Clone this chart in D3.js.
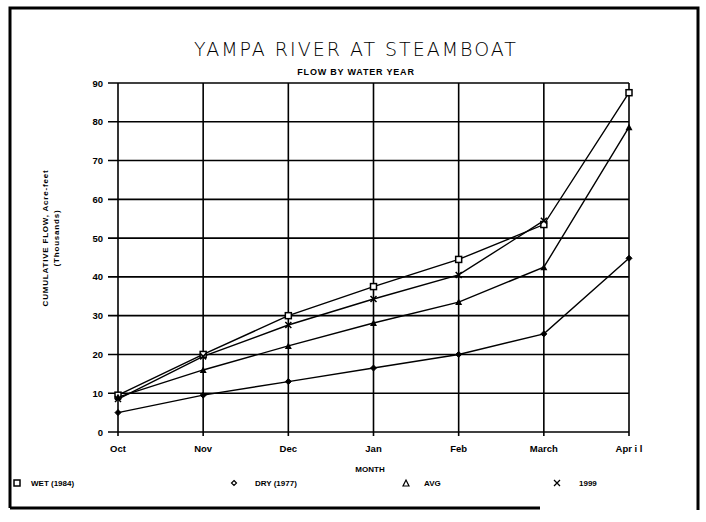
<!DOCTYPE html>
<html><head><meta charset="utf-8">
<script src="https://cdn.jsdelivr.net/npm/d3@7"></script>
<style>body{margin:0;background:#fff}svg{display:block}</style>
</head><body>
<svg id="c" width="706" height="522"></svg>
<script>
const months = ["Oct","Nov","Dec","Jan","Feb","March","Apr i l"];
const yTicks = [0,10,20,30,40,50,60,70,80,90];
const wet1984 = [9.5,20,30,37.5,44.5,53.5,87.5];
const dry1977 = [5,9.5,13,16.5,20,25.3,44.8];
const avg = [9,16,22.2,28.1,33.5,42.5,78.6];
const y1999 = [8.5,19.5,27.6,34.3,40.5,54.5];

const svg = d3.select("#c");
const x = d3.scalePoint().domain(months).range([118,629]);
const y = d3.scaleLinear().domain([0,90]).range([432,83]);

// border
svg.append("path").attr("d","M10,508 L10,8 L698,8 L698,510").attr("fill","none").attr("stroke","#000").attr("stroke-width",3);
svg.append("line").attr("x1",10).attr("x2",540).attr("y1",508).attr("y2",508).attr("stroke","#000").attr("stroke-width",3);

// title
svg.append("text").attr("x",356).attr("y",56).attr("text-anchor","middle")
  .style("font-family","DejaVu Sans").style("font-size","19px").style("font-weight","300").style("letter-spacing","2px").text("YAMPA RIVER AT STEAMBOAT");
svg.append("text").attr("x",356).attr("y",75).attr("text-anchor","middle")
  .style("font-family","Liberation Sans").style("font-size","9px").style("font-weight","bold").style("letter-spacing","0.8px").text("FLOW BY WATER YEAR");

// grid
const g = svg.append("g");
g.selectAll(".hg").data(yTicks).join("line").attr("x1",108).attr("x2",629)
  .attr("y1",d=>y(d)).attr("y2",d=>y(d)).attr("stroke","#000").attr("stroke-width",1.6);
g.selectAll(".vg").data(months).join("line").attr("x1",d=>x(d)).attr("x2",d=>x(d))
  .attr("y1",83).attr("y2",436).attr("stroke","#000").attr("stroke-width",1.6);

// y tick labels
g.selectAll(".yl").data(yTicks).join("text").attr("x",103).attr("y",d=>y(d)+3.5)
  .attr("text-anchor","end").style("font-family","Liberation Sans").style("font-size","9.5px").style("font-weight","bold").text(d=>d);
// x tick labels
g.selectAll(".xl").data(months).join("text").attr("x",d=>x(d)).attr("y",452)
  .attr("text-anchor","middle").style("font-family","Liberation Sans").style("font-size","9.5px").style("font-weight","bold").text(d=>d);

svg.append("text").attr("x",370).attr("y",472).attr("text-anchor","middle")
  .style("font-family","Liberation Sans").style("font-size","8px").style("font-weight","bold").text("MONTH");

// y label
const yl = svg.append("g").attr("transform","translate(48,238) rotate(-90)");
yl.append("text").attr("x",0).attr("y",0).attr("text-anchor","middle")
  .style("font-family","Liberation Sans").style("font-size","8px").style("font-weight","bold").style("letter-spacing","0.8px").text("CUMULATIVE FLOW, Acre-feet");
yl.append("text").attr("x",0).attr("y",11).attr("text-anchor","middle")
  .style("font-family","Liberation Sans").style("font-size","8px").style("font-weight","bold").style("letter-spacing","0.8px").text("(Thousands)");

// series
const line = d3.line().x((d,i)=>x(months[i])).y(d=>y(d));
const series = [
  {vals:wet1984, sym:"square"},
  {vals:dry1977, sym:"diamond"},
  {vals:avg, sym:"triangle"},
  {vals:y1999, sym:"x"}
];
function drawSym(sel, sym, cx, cy){
  if(sym==="square") sel.append("rect").attr("x",cx-3).attr("y",cy-3).attr("width",6).attr("height",6).attr("fill","#fff").attr("stroke","#000").attr("stroke-width",1.5);
  else if(sym==="diamond") sel.append("path").attr("d",`M${cx},${cy-3}L${cx+3},${cy}L${cx},${cy+3}L${cx-3},${cy}Z`).attr("fill","#000").attr("stroke","#000").attr("stroke-width",1);
  else if(sym==="triangle") sel.append("path").attr("d",`M${cx},${cy-3.5}L${cx+3.5},${cy+3}L${cx-3.5},${cy+3}Z`).attr("fill","#000");
  else sel.append("path").attr("d",`M${cx-3},${cy-3}L${cx+3},${cy+3}M${cx+3},${cy-3}L${cx-3},${cy+3}`).attr("stroke","#000").attr("stroke-width",1.5);
}
series.forEach(s=>{
  svg.append("path").attr("d",line(s.vals)).attr("fill","none").attr("stroke","#000").attr("stroke-width",1.4);
});
series.forEach(s=>{
  const gg = svg.append("g");
  s.vals.forEach((v,i)=>drawSym(gg,s.sym,x(months[i]),y(v)));
});

// legend
const legend = [
  {sym:"square", label:"WET (1984)", sx:17, tx:31},
  {sym:"diamond", label:"DRY (1977)", sx:234, tx:255},
  {sym:"triangle", label:"AVG", sx:406, tx:424},
  {sym:"x", label:"1999", sx:557, tx:579}
];
legend.forEach(l=>{
  const gg = svg.append("g");
  if(l.sym==="square") gg.append("rect").attr("x",l.sx-3).attr("y",483-3).attr("width",6).attr("height",6).attr("fill","#fff").attr("stroke","#000").attr("stroke-width",1.5);
  else if(l.sym==="diamond") gg.append("path").attr("d",`M${l.sx},${480.5}L${l.sx+2.5},483L${l.sx},485.5L${l.sx-2.5},483Z`).attr("fill","none").attr("stroke","#000").attr("stroke-width",1.2);
  else if(l.sym==="triangle") gg.append("path").attr("d",`M${l.sx},480L${l.sx+3},486L${l.sx-3},486Z`).attr("fill","none").attr("stroke","#000").attr("stroke-width",1.2);
  else gg.append("path").attr("d",`M${l.sx-3},480L${l.sx+3},486M${l.sx+3},480L${l.sx-3},486`).attr("stroke","#000").attr("stroke-width",1.3);
  gg.append("text").attr("x",l.tx).attr("y",486).style("font-family","Liberation Sans").style("font-size","8px").style("font-weight","bold").text(l.label);
});
</script>
</body></html>
